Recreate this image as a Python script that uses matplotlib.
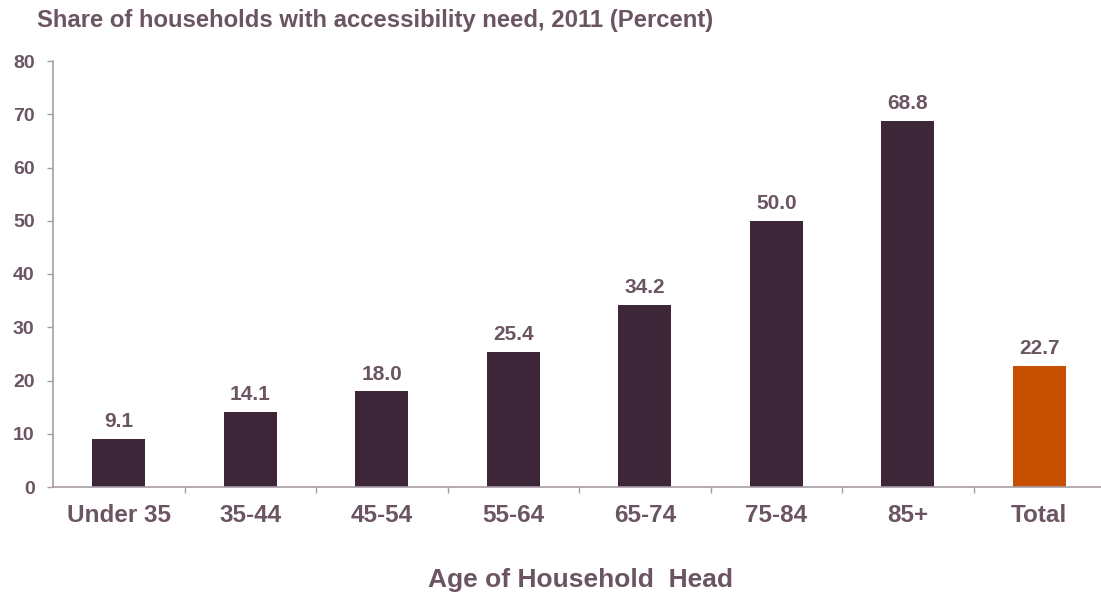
import matplotlib
matplotlib.use("Agg")
import matplotlib.pyplot as plt

categories = ["Under 35", "35-44", "45-54", "55-64", "65-74", "75-84", "85+", "Total"]
values = [9.1, 14.1, 18.0, 25.4, 34.2, 50.0, 68.8, 22.7]
yticks = [0, 10, 20, 30, 40, 50, 60, 70, 80]

bar_dark = "#3D2638"
bar_total = "#C75000"
text_col = "#6B5563"
axis_col = "#A89CA4"

plt.rcParams["font.family"] = ["Liberation Sans", "DejaVu Sans"]
plt.rcParams["font.weight"] = "bold"

W, H = 1101, 592
fig = plt.figure(figsize=(W / 100, H / 100), dpi=100)
ax = fig.add_axes([53 / W, 105 / H, 1052 / W, 426 / H])

x = list(range(len(categories)))
colors = [bar_dark] * (len(categories) - 1) + [bar_total]
ax.bar(x, values, width=0.4, color=colors, linewidth=0, zorder=2)

for xi, v in zip(x, values):
    ax.annotate(f"{v:.1f}", (xi, v), xytext=(0, 5.5), textcoords="offset points",
                ha="center", va="bottom", fontsize=15, fontweight="bold", color=text_col)

ax.set_xlim(-0.5, len(categories) - 0.5)
ax.set_ylim(0, 80)
ax.set_yticks(yticks)
ax.set_yticklabels([str(t) for t in yticks])

ax.set_xticks(x)
ax.set_xticklabels(categories)
ax.set_xticks([i + 0.5 for i in range(len(categories) - 1)], minor=True)
ax.tick_params(axis="x", which="major", length=0, pad=12, labelsize=17.5, labelcolor=text_col)
ax.tick_params(axis="x", which="minor", length=4.5, width=1, color=axis_col, direction="out")
ax.tick_params(axis="y", length=4.3, width=1, color=axis_col, direction="out", pad=9,
               labelsize=14, labelcolor=text_col)
for lab in ax.get_xticklabels() + ax.get_yticklabels():
    lab.set_fontweight("bold")

for side in ["top", "right"]:
    ax.spines[side].set_visible(False)
for side in ["left", "bottom"]:
    ax.spines[side].set_color(axis_col)
    ax.spines[side].set_linewidth(1.2)

fig.text(580 / W, 1 - 587 / H, "Age of Household  Head", fontsize=19, fontweight="bold",
         color=text_col, ha="center", va="baseline")
fig.text(37 / W, 1 - 27 / H, "Share of households with accessibility need, 2011 (Percent)",
         fontsize=17.2, fontweight="bold", color=text_col, ha="left", va="baseline")

fig.savefig("out.png", dpi=100)
